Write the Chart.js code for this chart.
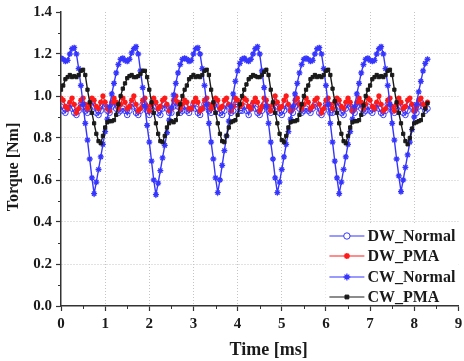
<!DOCTYPE html>
<html><head><meta charset="utf-8">
<script src="https://cdn.jsdelivr.net/npm/chart.js@4.4.0/dist/chart.umd.min.js"></script>
<style>html,body{margin:0;padding:0;background:#fff;overflow:hidden}</style>
</head><body>
<canvas id="c" width="464" height="361"></canvas>
<script>
// time axis samples [ms]
const timeMs = [
0,0.05,0.1,0.15,0.2,0.25,0.3,0.35,0.4,0.45,0.5,0.55,0.6,0.65,0.7,0.75,0.8,0.85,0.9,0.95,
1,1.05,1.1,1.15,1.2,1.25,1.3,1.35,1.4,1.45,1.5,1.55,1.6,1.65,1.7,1.75,1.8,1.85,1.9,1.95,
2,2.05,2.1,2.15,2.2,2.25,2.3,2.35,2.4,2.45,2.5,2.55,2.6,2.65,2.7,2.75,2.8,2.85,2.9,2.95,
3,3.05,3.1,3.15,3.2,3.25,3.3,3.35,3.4,3.45,3.5,3.55,3.6,3.65,3.7,3.75,3.8,3.85,3.9,3.95,
4,4.05,4.1,4.15,4.2,4.25,4.3,4.35,4.4,4.45,4.5,4.55,4.6,4.65,4.7,4.75,4.8,4.85,4.9,4.95,
5,5.05,5.1,5.15,5.2,5.25,5.3,5.35,5.4,5.45,5.5,5.55,5.6,5.65,5.7,5.75,5.8,5.85,5.9,5.95,
6,6.05,6.1,6.15,6.2,6.25,6.3,6.35,6.4,6.45,6.5,6.55,6.6,6.65,6.7,6.75,6.8,6.85,6.9,6.95,
7,7.05,7.1,7.15,7.2,7.25,7.3,7.35,7.4,7.45,7.5,7.55,7.6,7.65,7.7,7.75,7.8,7.85,7.9,7.95,
8,8.05,8.1,8.15,8.2,8.25,8.3];

const dwNormal = [
0.95,0.93,0.92,0.94,0.96,0.94,0.92,0.91,0.93,0.96,0.95,0.93,0.92,0.94,0.97,0.95,0.92,0.91,0.93,0.96,0.95,0.93,0.92,0.95,0.97,0.94,0.92,0.93,
0.94,0.93,0.91,0.93,0.96,0.95,0.92,0.91,0.93,0.96,0.96,0.93,0.91,0.94,0.97,0.95,0.92,0.91,0.94,0.96,0.94,0.92,0.92,0.95,0.97,0.95,0.92,0.93,
0.95,0.93,0.92,0.94,0.96,0.94,0.92,0.91,0.94,0.96,0.95,0.93,0.92,0.95,0.97,0.94,0.92,0.91,0.93,0.96,0.95,0.92,0.93,0.96,0.96,0.93,0.93,
0.95,0.93,0.91,0.94,0.96,0.94,0.92,0.91,0.93,0.96,0.95,0.93,0.92,0.94,0.97,0.95,0.92,0.91,0.93,0.96,0.95,0.93,0.92,0.95,0.97,0.94,0.92,0.93,
0.94,0.93,0.92,0.94,0.96,0.95,0.92,0.91,0.93,0.96,0.95,0.92,0.92,0.94,0.97,0.95,0.92,0.91,0.94,0.96,0.95,0.93,0.92,0.95,0.97,0.94,0.92,0.93,
0.95,0.93,0.92,0.94,0.96,0.94,0.92,0.91,0.93,0.96,0.95,0.93,0.92,0.94,0.97,0.95,0.92,0.91,0.93,0.96,0.95,0.93,0.92,0.95,0.97,0.95,0.93,0.94];

const dwPMA = [
0.99,0.98,0.95,0.94,0.97,0.99,0.96,0.92,0.94,0.98,0.99,0.96,0.94,0.96,0.99,0.98,0.95,0.94,0.97,1.00,0.97,0.94,0.93,0.97,0.99,0.97,0.94,0.96,
0.99,0.97,0.94,0.95,0.98,1.00,0.96,0.93,0.94,0.98,0.99,0.95,0.93,0.96,0.99,0.97,0.94,0.95,0.98,0.99,0.96,0.93,0.94,0.98,1.00,0.97,0.94,0.96,
0.98,0.97,0.94,0.94,0.97,0.99,0.97,0.93,0.94,0.98,0.99,0.96,0.94,0.96,0.99,0.98,0.94,0.95,0.98,0.99,0.96,0.93,0.95,0.99,0.98,0.95,0.96,
0.99,0.98,0.95,0.94,0.97,0.99,0.97,0.93,0.95,0.99,0.98,0.95,0.93,0.96,1.00,0.97,0.94,0.95,0.98,1.00,0.96,0.93,0.94,0.98,0.99,0.96,0.94,0.96,
0.99,0.97,0.94,0.95,0.98,0.99,0.96,0.92,0.94,0.98,0.99,0.96,0.94,0.97,0.99,0.98,0.95,0.94,0.97,0.99,0.97,0.93,0.94,0.97,0.99,0.97,0.94,0.96,
0.99,0.98,0.95,0.94,0.97,1.00,0.96,0.93,0.94,0.98,0.99,0.95,0.93,0.96,0.99,0.97,0.94,0.95,0.98,0.99,0.96,0.93,0.95,0.98,0.99,0.96,0.95,0.97];

const cwNormal = [
1.18,1.175,1.165,1.17,1.2,1.225,1.23,1.2,1.13,1.05,0.96,0.87,0.79,0.7,0.61,0.535,0.59,0.65,0.71,0.77,0.83,0.89,0.95,1.01,1.06,1.11,1.15,1.175,
1.18,1.17,1.165,1.175,1.205,1.225,1.235,1.2,1.12,1.04,0.95,0.86,0.78,0.69,0.6,0.53,0.585,0.645,0.705,0.765,0.825,0.885,0.945,1.005,1.06,1.11,1.15,1.175,
1.18,1.175,1.165,1.17,1.2,1.225,1.23,1.2,1.13,1.05,0.96,0.87,0.78,0.7,0.61,0.54,0.6,0.67,0.74,0.81,0.88,0.95,1.01,1.07,1.12,1.155,1.175,
1.18,1.17,1.165,1.175,1.2,1.225,1.235,1.2,1.12,1.04,0.95,0.87,0.78,0.7,0.61,0.54,0.59,0.65,0.71,0.77,0.83,0.89,0.95,1.01,1.06,1.11,1.15,1.175,
1.18,1.175,1.165,1.17,1.2,1.225,1.23,1.2,1.13,1.05,0.96,0.87,0.78,0.69,0.61,0.535,0.59,0.65,0.71,0.77,0.83,0.89,0.95,1.01,1.06,1.11,1.15,1.175,
1.18,1.17,1.165,1.17,1.2,1.225,1.235,1.2,1.13,1.05,0.96,0.87,0.79,0.7,0.62,0.545,0.6,0.66,0.72,0.78,0.84,0.9,0.96,1.02,1.07,1.12,1.155,1.175];

const cwPMA = [
1.03,1.05,1.08,1.09,1.10,1.09,1.095,1.09,1.10,1.12,1.125,1.10,1.03,0.97,0.92,0.87,0.82,0.785,0.775,0.81,0.85,0.875,0.88,0.88,0.885,0.91,0.96,1.00,
1.035,1.06,1.085,1.095,1.10,1.09,1.09,1.095,1.105,1.12,1.12,1.09,1.03,0.97,0.92,0.87,0.82,0.785,0.78,0.81,0.85,0.87,0.88,0.875,0.885,0.915,0.96,1.00,
1.03,1.05,1.08,1.09,1.10,1.09,1.095,1.09,1.10,1.12,1.125,1.10,1.03,0.97,0.92,0.87,0.82,0.785,0.78,0.81,0.85,0.875,0.88,0.885,0.91,0.96,1.00,
1.03,1.055,1.08,1.09,1.10,1.095,1.09,1.09,1.10,1.115,1.125,1.10,1.03,0.97,0.92,0.87,0.82,0.79,0.78,0.81,0.85,0.875,0.88,0.88,0.885,0.91,0.96,1.00,
1.03,1.05,1.08,1.09,1.10,1.09,1.095,1.09,1.10,1.12,1.125,1.10,1.035,0.975,0.92,0.87,0.82,0.785,0.775,0.81,0.85,0.875,0.88,0.88,0.885,0.91,0.955,1.00,
1.03,1.05,1.08,1.09,1.10,1.09,1.095,1.09,1.10,1.12,1.125,1.10,1.03,0.97,0.92,0.87,0.82,0.785,0.77,0.80,0.845,0.87,0.875,0.88,0.885,0.91,0.94,0.965];

const seriesNames = ['DW_Normal','DW_PMA','CW_Normal','CW_PMA'];
const xMajorTicks = [0,1,2,3,4,5,6,7,8,9];
const xMinorTicks = [0.5,1.5,2.5,3.5,4.5,5.5,6.5,7.5,8.5];
const yMajorTicks = [0,0.2,0.4,0.6,0.8,1.0,1.2,1.4];
const yMinorTicks = [0.1,0.3,0.5,0.7,0.9,1.1,1.3];

[dwNormal,dwPMA,cwNormal,cwPMA].forEach((a,i)=>{ if(a.length!==timeMs.length) throw new Error('length mismatch '+i+': '+a.length+' vs '+timeMs.length); });

const toXY = arr => timeMs.map((t,i)=>({x:t,y:arr[i]}));
const FONT = "'Liberation Serif','Times New Roman',serif";
const BLUE = '#3535ff', RED = '#ff1a1a', BLACK = '#1a1a1a';

const datasets = [
  {label:seriesNames[0], data:toXY(dwNormal), borderColor:BLUE, borderWidth:1.2, pointStyle:'circle', pointRadius:2.8, pointBorderWidth:1, pointBorderColor:BLUE, pointBackgroundColor:'rgba(255,255,255,0)', order:4},
  {label:seriesNames[1], data:toXY(dwPMA), borderColor:RED, borderWidth:1.3, pointStyle:'star', pointRadius:2.7, pointBorderWidth:1.6, pointBorderColor:RED, pointBackgroundColor:RED, order:3},
  {label:seriesNames[2], data:toXY(cwNormal), borderColor:BLUE, borderWidth:1.4, pointStyle:'star', pointRadius:3, pointBorderWidth:1.3, pointBorderColor:BLUE, pointBackgroundColor:BLUE, order:2},
  {label:seriesNames[3], data:toXY(cwPMA), borderColor:BLACK, borderWidth:1.4, pointStyle:'rect', pointRadius:2.3, pointBorderWidth:1, pointBorderColor:BLACK, pointBackgroundColor:BLACK, order:1}
];

const extras = {
  id:'extras',
  afterDraw(chart){
    const {ctx, chartArea, scales:{x,y}} = chart;
    ctx.save();
    ctx.strokeStyle = '#333'; ctx.lineWidth = 1;
    for (const v of xMinorTicks){ const px = Math.round(x.getPixelForValue(v))+0.5; ctx.beginPath(); ctx.moveTo(px, y.bottom); ctx.lineTo(px, y.bottom+3); ctx.stroke(); }
    for (const v of yMinorTicks){ const py = Math.round(y.getPixelForValue(v))+0.5; ctx.beginPath(); ctx.moveTo(x.left, py); ctx.lineTo(x.left-3, py); ctx.stroke(); }
    // legend
    const R = chartArea.right, B = chartArea.bottom;
    ctx.fillStyle = '#fff';
    ctx.fillRect(R-133, B-82, 133, 81);
    const rows = [B-70, B-50, B-29, B-9];
    chart.data.datasets.forEach((ds,i)=>{
      const yy = rows[i];
      ctx.strokeStyle = ds.borderColor; ctx.lineWidth = 1.2;
      ctx.beginPath(); ctx.moveTo(R-129, yy); ctx.lineTo(R-94, yy); ctx.stroke();
      ctx.fillStyle = ds.pointBackgroundColor; ctx.strokeStyle = ds.pointBorderColor; ctx.lineWidth = ds.pointBorderWidth;
      if (ds.pointStyle==='circle'){ ctx.fillStyle='#fff'; }
      Chart.helpers.drawPoint(ctx, {pointStyle:ds.pointStyle, radius:ds.pointRadius+0.4, rotation:0, borderWidth:ds.pointBorderWidth}, R-111.5, yy);
      ctx.fillStyle = '#1a1a1a';
      ctx.font = "bold 16px "+FONT;
      ctx.textAlign = 'left'; ctx.textBaseline = 'middle';
      ctx.fillText(ds.label, R-91, yy+1);
    });
    ctx.restore();
  }
};

new Chart(document.getElementById('c'), {
  type:'line',
  data:{datasets},
  options:{
    responsive:false, animation:false, devicePixelRatio:1,
    layout:{padding:{top:12,right:3,left:0,bottom:0}},
    plugins:{legend:{display:false}, tooltip:{enabled:false}},
    elements:{line:{tension:0}},
    scales:{
      x:{type:'linear', min:0, max:9,
        afterBuildTicks: s => { s.ticks = xMajorTicks.map(v=>({value:v})); },
        afterFit: s => { s.height = 55; s.paddingLeft = 0; s.paddingRight = 0; },
        ticks:{color:'#1a1a1a', font:{family:FONT, size:15, weight:'bold'}, padding:4, maxRotation:0, autoSkip:false, callback:v=>String(v)},
        grid:{color:c=> (c.tick && (c.tick.value===0||c.tick.value===9)) ? 'rgba(0,0,0,0)' : '#c4c4c4', lineWidth:1, tickColor:'#333', tickLength:5, tickWidth:1.2},
        border:{color:'#333', width:1.5, dash:[1,2]},
        title:{display:true, text:'    Time [ms]', color:'#1a1a1a', font:{family:FONT, size:18, weight:'bold'}, padding:{top:0,bottom:0}}
      },
      y:{type:'linear', min:0, max:1.4,
        afterBuildTicks: s => { s.ticks = yMajorTicks.map(v=>({value:v})); },
        afterFit: s => { s.width = 61; s.paddingTop = 0; s.paddingBottom = 0; },
        ticks:{color:'#1a1a1a', font:{family:FONT, size:15, weight:'bold'}, padding:4, autoSkip:false, callback:v=>Number(v).toFixed(1)},
        grid:{color:c=> (c.tick && (c.tick.value===0||Math.abs(c.tick.value-1.4)<1e-9)) ? 'rgba(0,0,0,0)' : '#c4c4c4', lineWidth:1, tickColor:'#333', tickLength:5, tickWidth:1.2},
        border:{color:'#333', width:1.5, dash:[1,2]},
        title:{display:true, text:'Torque [Nm]    ', color:'#1a1a1a', font:{family:FONT, size:16, weight:'bold'}, padding:{top:4,bottom:0}}
      }
    }
  },
  plugins:[extras]
});
</script>
</body></html>
